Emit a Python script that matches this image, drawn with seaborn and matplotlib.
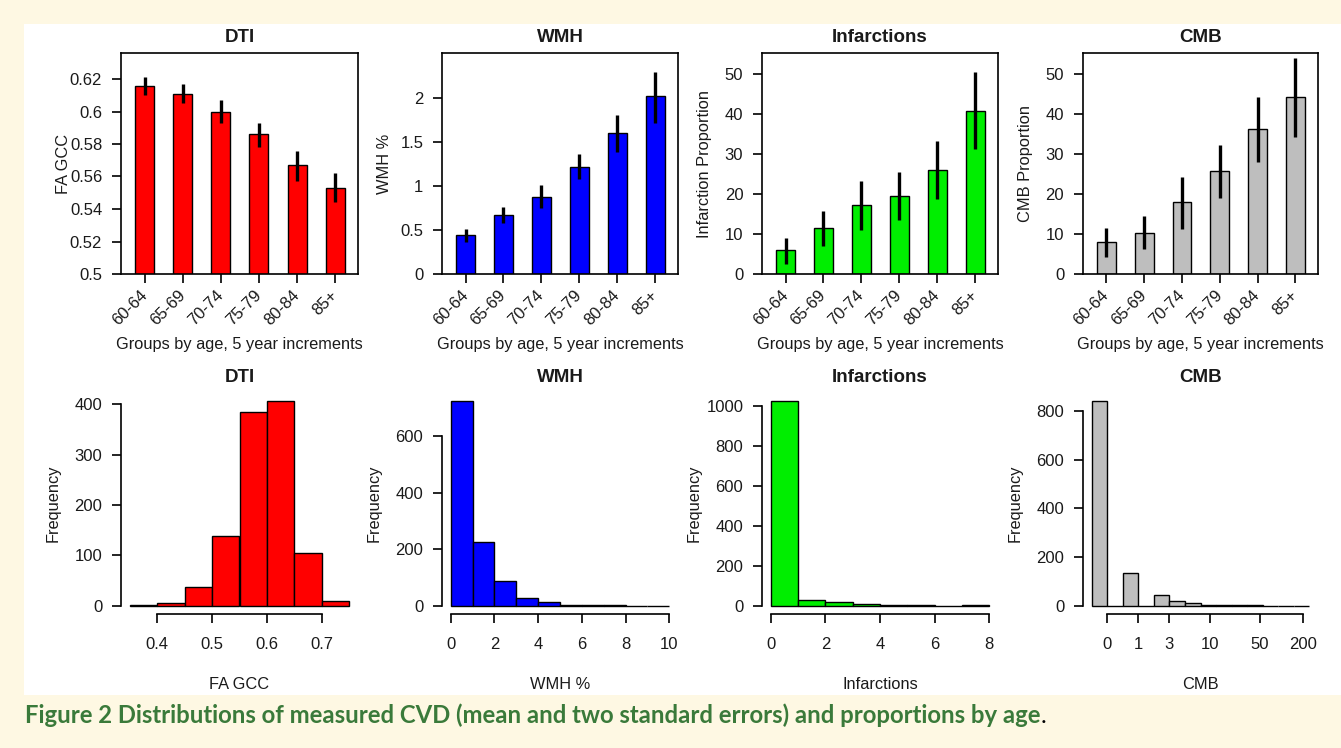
import numpy as np
import pandas as pd
import matplotlib
matplotlib.use("Agg")
import matplotlib.pyplot as plt
from matplotlib.patches import Rectangle
import seaborn as sns

# ---------------- data ----------------
age_groups = ["60-64", "65-69", "70-74", "75-79", "80-84", "85+"]

dti_mean = [0.616, 0.611, 0.600, 0.586, 0.567, 0.553]
dti_lower = [0.610, 0.605, 0.593, 0.578, 0.557, 0.544]
dti_upper = [0.621, 0.617, 0.607, 0.593, 0.576, 0.562]

wmh_mean = [0.44, 0.67, 0.88, 1.22, 1.61, 2.02]
wmh_lower = [0.36, 0.58, 0.75, 1.08, 1.39, 1.72]
wmh_upper = [0.51, 0.76, 1.01, 1.36, 1.81, 2.30]

inf_mean = [5.9, 11.5, 17.2, 19.6, 26.1, 40.9]
inf_lower = [2.6, 7.1, 11.0, 13.6, 18.8, 31.3]
inf_upper = [8.9, 15.8, 23.2, 25.5, 33.4, 50.5]

cmb_mean = [8.0, 10.3, 17.9, 25.7, 36.3, 44.3]
cmb_lower = [4.3, 6.2, 11.3, 18.9, 28.0, 34.3]
cmb_upper = [11.6, 14.4, 24.3, 32.3, 44.2, 54.0]

dti_hist_edges = [0.35, 0.40, 0.45, 0.50, 0.55, 0.60, 0.65, 0.70, 0.75]
dti_hist_counts = [2, 5, 37, 139, 385, 406, 105, 9]

wmh_hist_edges = [0, 1, 2, 3, 4, 5, 6, 7, 8, 9, 10]
wmh_hist_counts = [724, 227, 89, 27, 12, 4, 3, 4, 1, 1]

inf_hist_edges = [0, 1, 2, 3, 4, 5, 6, 7, 8]
inf_hist_counts = [1023, 30, 20, 10, 3, 4, 1, 2]

# CMB histogram drawn on a transformed (log-like) scale
cmb_hist_edges = [-1, 0, 1, 2, 3, 4, 5, 6, 7, 8, 9, 10, 11, 12, 13]
cmb_hist_counts = [841, 0, 135, 0, 44, 20, 11, 4, 3, 2, 2, 1, 1, 1]
cmb_tick_pos = [0, 2, 4, 6.6, 9.8, 12.6]
cmb_tick_labels = ["0", "1", "3", "10", "50", "200"]

caption = "Figure 2 Distributions of measured CVD (mean and two standard errors) and proportions by age"

# ---------------- style ----------------
sns.set_style("ticks")
plt.rcParams["font.family"] = ["Liberation Sans", "DejaVu Sans"]
TXT = "#1a1a1a"
CREAM = "#fef8e3"
RED, BLUE, GREEN, GRAY = "#ff0000", "#0000ff", "#00ee00", "#bebebe"

W, H = 1341, 748
fig = plt.figure(figsize=(W / 100, H / 100), dpi=100, facecolor=CREAM)
fig.patches.append(Rectangle((24 / W, 1 - 695 / H), 1 - 24 / W, (695 - 24) / H,
                             transform=fig.transFigure, facecolor="white",
                             edgecolor="none", zorder=-10))

col_left = [121, 442, 762, 1083]
col_w = [237, 236, 236, 235]


def make_ax(i, top_px, bottom_px):
    ax = fig.add_axes([col_left[i] / W, 1 - bottom_px / H, col_w[i] / W,
                       (bottom_px - top_px) / H])
    ax.set_zorder(5)
    return ax


FS_TICK = 12
FS_LAB = 11.8
FS_TITLE = 13.5
LW_AX = 1.2


def top_panel(i, mean, lower, upper, color, ylim, yticks, yticklabels, ylabel, title):
    ax = make_ax(i, 53, 274)
    ax.set_facecolor("white")
    df = pd.DataFrame({"group": age_groups, "value": mean})
    sns.barplot(data=df, x="group", y="value", color=color, saturation=1,
                edgecolor="black", linewidth=1.0, width=0.5, errorbar=None, ax=ax)
    ax.vlines(np.arange(len(age_groups)), lower, upper, color="black", lw=2.4, zorder=5)
    ax.set_xlim(-0.62, 5.6)
    ax.set_ylim(*ylim)
    ax.set_yticks(yticks)
    ax.set_yticklabels(yticklabels)
    ax.set_xticks(np.arange(len(age_groups)))
    ax.set_xticklabels(age_groups, rotation=45, ha="right", va="center",
                       rotation_mode="anchor")
    for s in ax.spines.values():
        s.set_visible(True)
        s.set_color("black")
        s.set_linewidth(LW_AX)
    ax.tick_params(direction="out", length=6.5, width=LW_AX, color="black",
                   labelsize=FS_TICK, labelcolor=TXT, pad=7)
    ax.tick_params(axis="x", pad=7)
    ax.set_ylabel(ylabel, fontsize=FS_LAB, color=TXT)
    ax.yaxis.set_label_coords(-0.212, 0.5)
    ax.set_xlabel("Groups by age, 5 year increments", fontsize=FS_LAB, color=TXT, va="top")
    ax.xaxis.set_label_coords(0.5, -0.285)
    ax.set_title(title, fontsize=FS_TITLE, fontweight="bold", color=TXT, pad=8)
    return ax


def hist_panel(i, edges, counts, color, xticks, xticklabels, yticks, xlabel, title):
    ax = make_ax(i, 393, 614)
    ax.set_facecolor("white")
    e = np.asarray(edges, dtype=float)
    df = pd.DataFrame({"x": (e[:-1] + e[1:]) / 2, "w": np.asarray(counts, dtype=float)})
    sns.histplot(data=df, x="x", weights="w", bins=list(e), color=color, alpha=1,
                 edgecolor="black", linewidth=1.0, ax=ax)
    rng = e[-1] - e[0]
    ax.set_xlim(e[0] - 0.04 * rng, e[-1] + 0.04 * rng)
    ymax = max(counts)
    ax.set_ylim(-0.04 * ymax, 1.04 * ymax)
    ax.set_xticks(xticks)
    ax.set_xticklabels(xticklabels)
    ax.set_yticks(yticks)
    ax.set_yticklabels([str(v) for v in yticks])
    ax.spines["top"].set_visible(False)
    ax.spines["right"].set_visible(False)
    for k in ("left", "bottom"):
        ax.spines[k].set_color("black")
        ax.spines[k].set_linewidth(LW_AX)
    ax.spines["left"].set_bounds(yticks[0], yticks[-1])
    ax.spines["bottom"].set_bounds(xticks[0], xticks[-1])
    ax.tick_params(direction="out", length=6.5, width=LW_AX, color="black",
                   labelsize=FS_TICK, labelcolor=TXT, pad=7)
    ax.tick_params(axis="x", pad=10)
    ax.set_ylabel("Frequency", fontsize=FS_LAB, color=TXT)
    ax.yaxis.set_label_coords(-0.256, 0.5)
    ax.set_xlabel(xlabel, fontsize=FS_LAB, color=TXT, va="top")
    ax.xaxis.set_label_coords(0.5, -0.285)
    ax.set_title(title, fontsize=FS_TITLE, fontweight="bold", color=TXT, pad=8)
    return ax


top_panel(0, dti_mean, dti_lower, dti_upper, RED, (0.5, 0.636),
          [0.5, 0.52, 0.54, 0.56, 0.58, 0.6, 0.62],
          ["0.5", "0.52", "0.54", "0.56", "0.58", "0.6", "0.62"], "FA GCC", "DTI")
top_panel(1, wmh_mean, wmh_lower, wmh_upper, BLUE, (0, 2.515),
          [0, 0.5, 1, 1.5, 2], ["0", "0.5", "1", "1.5", "2"], "WMH %", "WMH")
top_panel(2, inf_mean, inf_lower, inf_upper, GREEN, (0, 55.3),
          [0, 10, 20, 30, 40, 50], ["0", "10", "20", "30", "40", "50"],
          "Infarction Proportion", "Infarctions")
top_panel(3, cmb_mean, cmb_lower, cmb_upper, GRAY, (0, 55.3),
          [0, 10, 20, 30, 40, 50], ["0", "10", "20", "30", "40", "50"],
          "CMB Proportion", "CMB")

hist_panel(0, dti_hist_edges, dti_hist_counts, RED, [0.4, 0.5, 0.6, 0.7],
           ["0.4", "0.5", "0.6", "0.7"], [0, 100, 200, 300, 400], "FA GCC", "DTI")
hist_panel(1, wmh_hist_edges, wmh_hist_counts, BLUE, [0, 2, 4, 6, 8, 10],
           ["0", "2", "4", "6", "8", "10"], [0, 200, 400, 600], "WMH %", "WMH")
hist_panel(2, inf_hist_edges, inf_hist_counts, GREEN, [0, 2, 4, 6, 8],
           ["0", "2", "4", "6", "8"], [0, 200, 400, 600, 800, 1000],
           "Infarctions", "Infarctions")
hist_panel(3, cmb_hist_edges, cmb_hist_counts, GRAY, cmb_tick_pos, cmb_tick_labels,
           [0, 200, 400, 600, 800], "CMB", "CMB")

CAP_FS = 17.2
cap = fig.text(25 / W, 1 - 723 / H, caption, color="#3a7a3a", fontsize=CAP_FS,
               fontweight="bold", family=["Lato", "DejaVu Sans"], va="baseline")
fig.canvas.draw()
bb = cap.get_window_extent(renderer=fig.canvas.get_renderer())
fig.text((bb.x1 + 0.5) / W, 1 - 723 / H, ".", color="black", fontsize=CAP_FS,
         family=["Lato", "DejaVu Sans"], va="baseline")

fig.savefig("out.png", dpi=100, facecolor=CREAM)
